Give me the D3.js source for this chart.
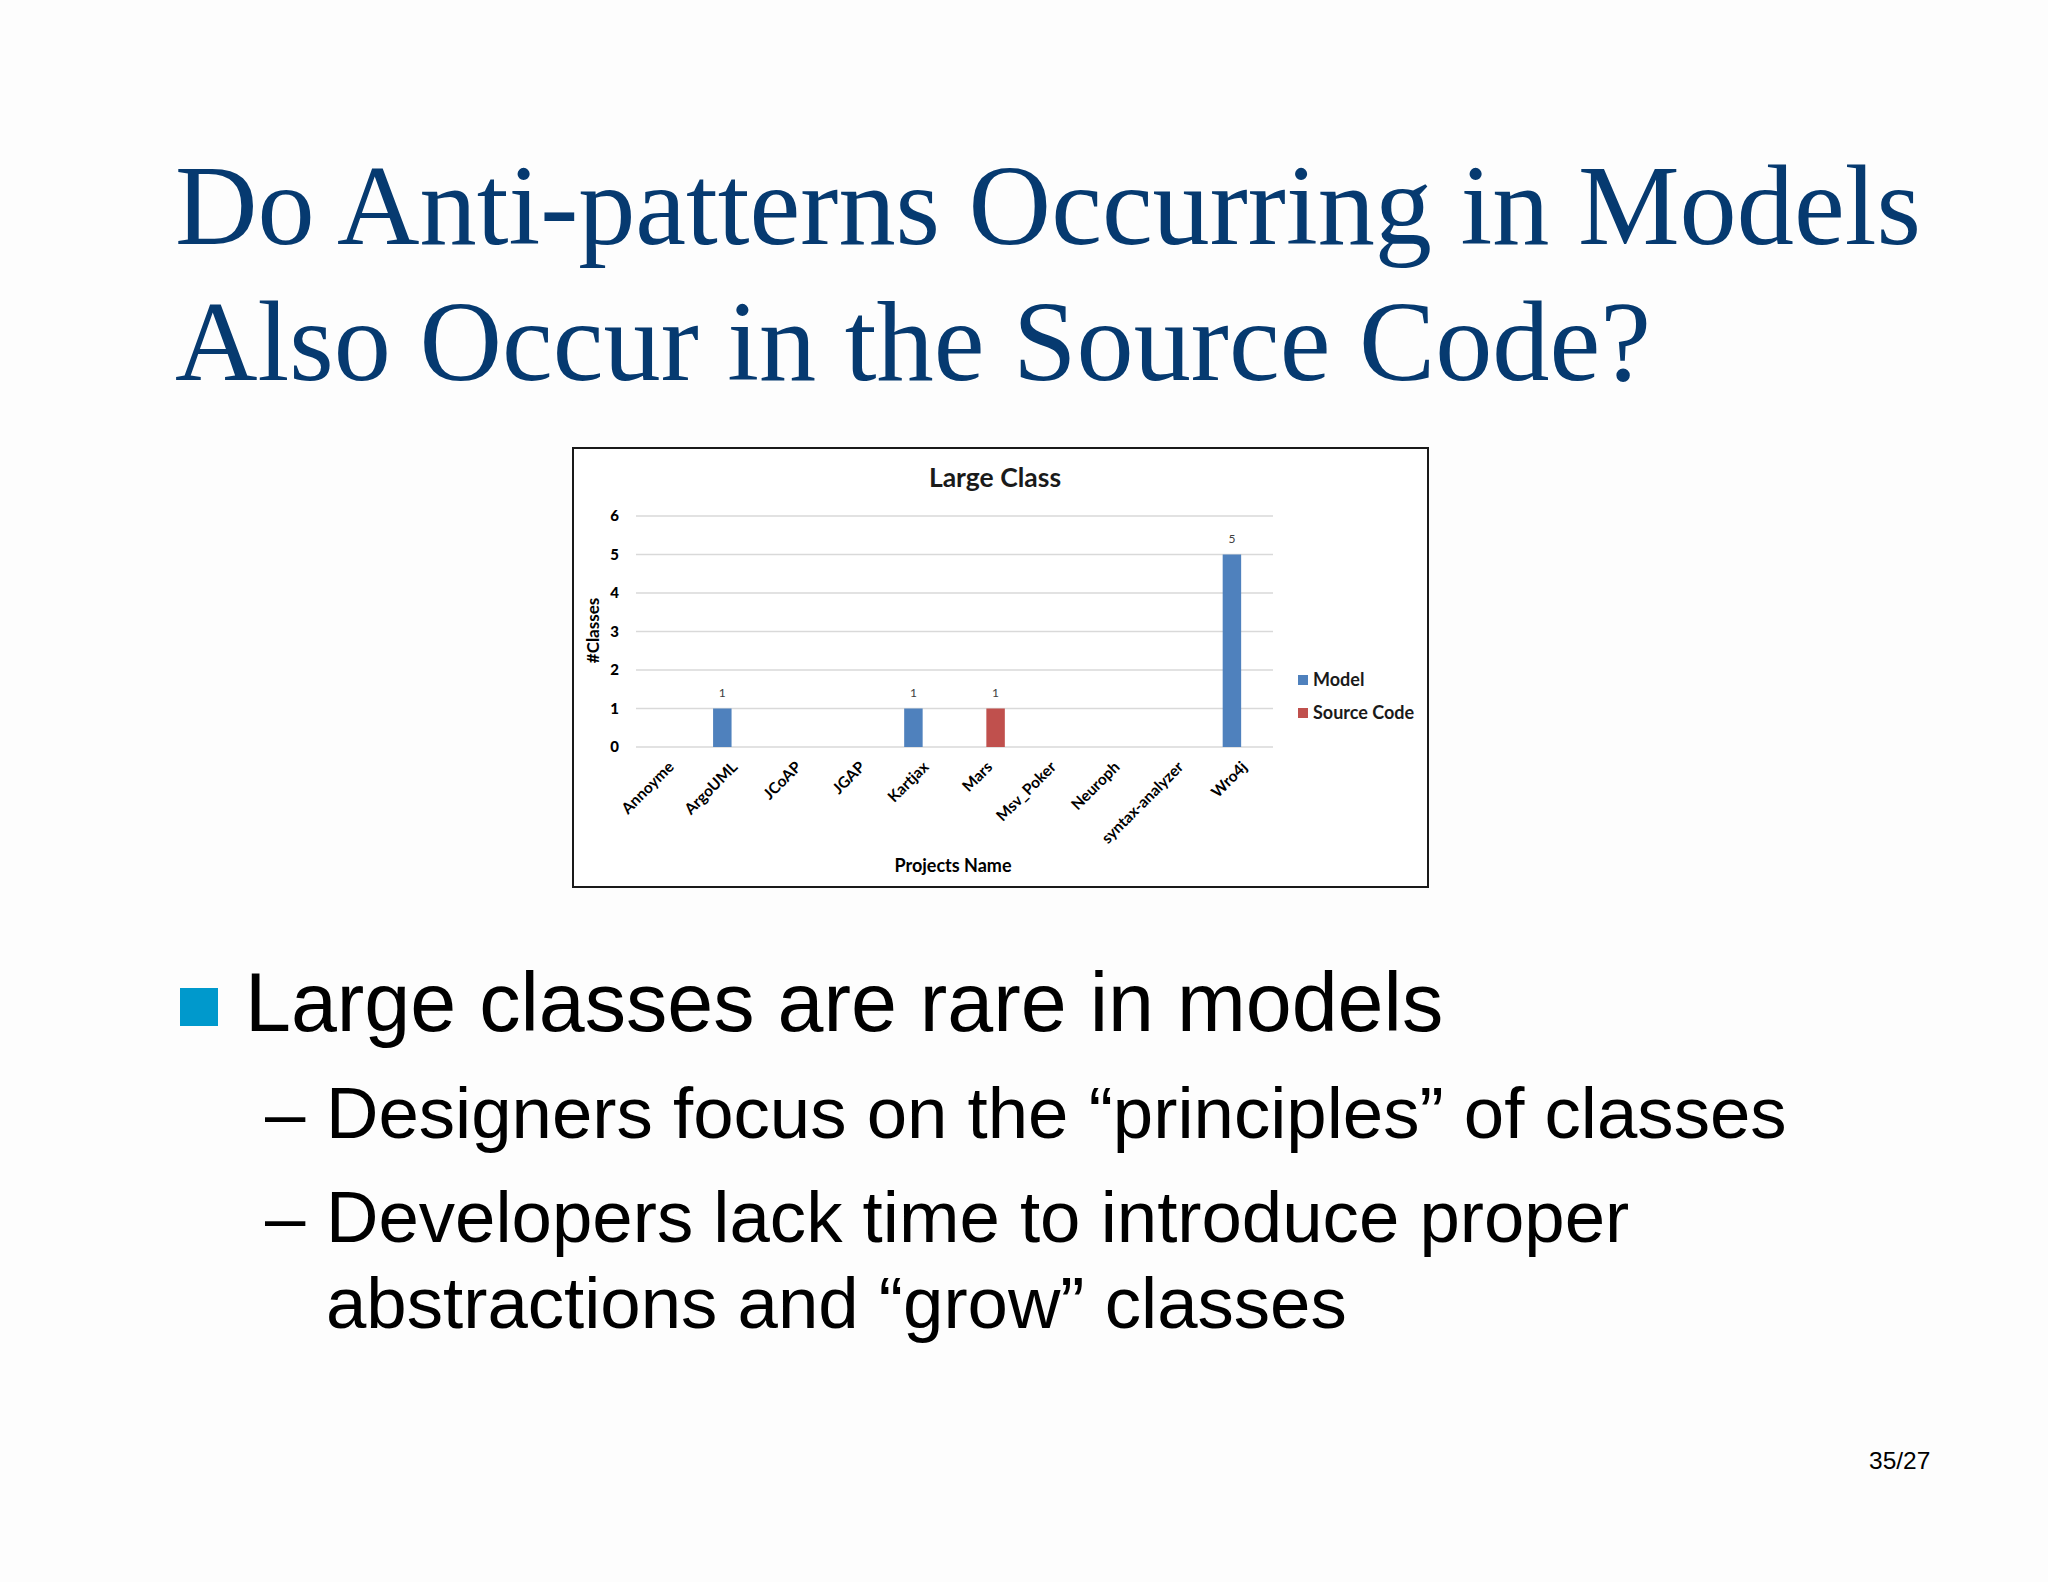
<!DOCTYPE html>
<html>
<head>
<meta charset="utf-8">
<script src="https://cdn.jsdelivr.net/npm/d3@7/dist/d3.min.js"></script>
<style>
  html, body { margin: 0; padding: 0; background: #fdfdfd; }
  svg { display: block; }
</style>
</head>
<body>
<svg id="slide" width="2048" height="1582"></svg>
<script>
// ---- Data ----
const categories = ["Annoyme", "ArgoUML", "JCoAP", "JGAP", "Kartjax", "Mars", "Msv_Poker", "Neuroph", "syntax-analyzer", "Wro4j"];
const seriesNames = ["Model", "Source Code"];
const modelValues = [0, 1, 0, 0, 1, 0, 0, 0, 0, 5];
const sourceCodeValues = [0, 0, 0, 0, 0, 1, 0, 0, 0, 0];
const yTickValues = [0, 1, 2, 3, 4, 5, 6];
const titleLines = ["Do Anti-patterns Occurring in Models", "Also Occur in the Source Code?"];

const seriesColors = { "Model": "#4f81bd", "Source Code": "#c0504d" };

const svg = d3.select("#slide");
svg.append("rect").attr("width", 2048).attr("height", 1582).attr("fill", "#fdfdfd");

// ---- Slide title ----
const title = svg.append("g")
  .attr("font-family", "'Liberation Serif', 'Times New Roman', serif")
  .attr("font-size", 114.3)
  .attr("fill", "#063a70");
title.selectAll("text").data(titleLines).join("text")
  .attr("x", 175)
  .attr("y", (d, i) => 244 + i * 136)
  .text(d => d);

// ---- Chart box ----
const box = { x: 573, y: 448, w: 855, h: 439 };
svg.append("rect")
  .attr("x", box.x).attr("y", box.y).attr("width", box.w).attr("height", box.h)
  .attr("fill", "#ffffff").attr("stroke", "#1a1a1a").attr("stroke-width", 2);

const plot = { left: 636, right: 1273, top: 516, bottom: 747 };
const font = "Lato, 'Open Sans', sans-serif";

const x0 = d3.scaleBand().domain(categories)
  .range([plot.left, plot.right]).paddingInner(0.42).paddingOuter(0.21);
const x1 = d3.scaleBand().domain(seriesNames).range([0, x0.bandwidth()]);
const y = d3.scaleLinear().domain([0, 6]).range([plot.bottom, plot.top]);

// Gridlines
svg.append("g").selectAll("line").data(yTickValues).join("line")
  .attr("x1", plot.left).attr("x2", plot.right)
  .attr("y1", d => y(d)).attr("y2", d => y(d))
  .attr("stroke", "#d9d9d9").attr("stroke-width", 1.3);

// Y axis (tick labels only)
const yAxis = d3.axisLeft(y).tickValues(yTickValues).tickSize(0).tickPadding(0).tickFormat(d3.format("d"));
const yg = svg.append("g").attr("transform", `translate(619,0)`).call(yAxis);
yg.select(".domain").remove();
yg.selectAll("text").attr("font-family", font).attr("font-weight", "900")
  .attr("font-size", 15).attr("fill", "#000");

// X axis labels
const xAxis = d3.axisBottom(x0).tickSize(0).tickPadding(0);
const xg = svg.append("g").attr("transform", `translate(0,${plot.bottom})`).call(xAxis);
xg.select(".domain").remove();
xg.selectAll("text")
  .attr("font-family", font).attr("font-weight", "bold").attr("font-size", 15.5).attr("fill", "#000")
  .attr("text-anchor", "end").attr("dy", null).attr("y", 0)
  .attr("transform", "translate(7,21) rotate(-45)");

// Bars
const rows = categories.map((c, i) => ({
  category: c,
  values: [
    { series: "Model", value: modelValues[i] },
    { series: "Source Code", value: sourceCodeValues[i] }
  ]
}));

const groups = svg.append("g").selectAll("g").data(rows).join("g")
  .attr("transform", d => `translate(${x0(d.category)},0)`);

groups.selectAll("rect").data(d => d.values.filter(v => v.value > 0)).join("rect")
  .attr("x", d => x1(d.series))
  .attr("width", x1.bandwidth())
  .attr("y", d => y(d.value))
  .attr("height", d => y(0) - y(d.value))
  .attr("fill", d => seriesColors[d.series]);

groups.selectAll("text").data(d => d.values.filter(v => v.value > 0)).join("text")
  .attr("x", d => x1(d.series) + x1.bandwidth() / 2)
  .attr("y", d => y(d.value) - 12)
  .attr("text-anchor", "middle")
  .attr("font-family", font).attr("font-size", 12).attr("fill", "#404040")
  .text(d => d.value);

// Chart title
svg.append("text")
  .attr("x", 995).attr("y", 487)
  .attr("text-anchor", "middle")
  .attr("font-family", font).attr("font-weight", "bold").attr("font-size", 26.5).attr("fill", "#1a1a1a")
  .text("Large Class");

// Axis titles
svg.append("text")
  .attr("transform", "translate(599,630.5) rotate(-90)")
  .attr("text-anchor", "middle")
  .attr("font-family", font).attr("font-weight", "bold").attr("font-size", 17).attr("fill", "#000")
  .text("#Classes");

svg.append("text")
  .attr("x", 953).attr("y", 872)
  .attr("text-anchor", "middle")
  .attr("font-family", font).attr("font-weight", "bold").attr("font-size", 18).attr("fill", "#000")
  .text("Projects Name");

// Legend
const legend = svg.append("g").selectAll("g").data(seriesNames).join("g")
  .attr("transform", (d, i) => `translate(1298,${675 + i * 33})`);
legend.append("rect").attr("width", 10).attr("height", 10).attr("fill", d => seriesColors[d]);
legend.append("text").attr("x", 15).attr("y", 10.5)
  .attr("font-family", font).attr("font-weight", "bold").attr("font-size", 18).attr("fill", "#1a1a1a")
  .text(d => d);

// ---- Bullets ----
const sans = "'Liberation Sans', Arial, sans-serif";
svg.append("rect").attr("x", 180).attr("y", 988).attr("width", 38).attr("height", 38).attr("fill", "#0099cc");
svg.append("text").attr("x", 245).attr("y", 1031)
  .attr("font-family", sans).attr("font-size", 82.6).attr("fill", "#000")
  .text("Large classes are rare in models");

const subLines = [
  { dash: true, text: "Designers focus on the \u201Cprinciples\u201D of classes", y: 1138 },
  { dash: true, text: "Developers lack time to introduce proper", y: 1242 },
  { dash: false, text: "abstractions and \u201Cgrow\u201D classes", y: 1328 }
];
const sub = svg.append("g").attr("font-family", sans).attr("font-size", 72.6).attr("fill", "#000");
sub.selectAll("text.dash").data(subLines.filter(d => d.dash)).join("text")
  .attr("class", "dash").attr("x", 265).attr("y", d => d.y).text("\u2013");
sub.selectAll("text.line").data(subLines).join("text")
  .attr("class", "line").attr("x", 326).attr("y", d => d.y).text(d => d.text);

// Page number
svg.append("text").attr("x", 1869).attr("y", 1469)
  .attr("font-family", sans).attr("font-size", 24.5).attr("fill", "#000")
  .text("35/27");
</script>
</body>
</html>
